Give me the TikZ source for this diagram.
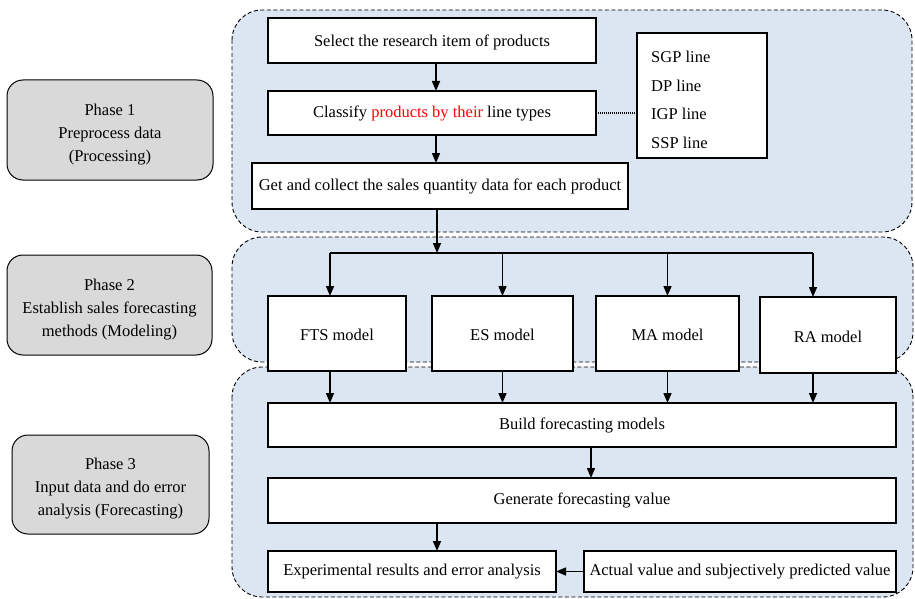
\documentclass[tikz,border=0pt]{standalone}
\usepackage{fontspec}
\setmainfont{Liberation Serif}
\usetikzlibrary{arrows.meta}
\definecolor{regblue}{HTML}{DCE6F2}
\definecolor{phgray}{HTML}{D9D9D9}
\begin{document}
\begin{tikzpicture}[x=1pt,y=-1pt,
  font=\fontsize{16.5}{23}\selectfont,
  region/.style={draw=black, dashed, dash pattern=on 4pt off 2.5pt, line width=0.9pt, fill=regblue, rounded corners=30pt},
  phase/.style={draw, line width=1pt, fill=phgray, rounded corners=16pt, align=center, inner sep=0pt, outer sep=0pt},
  box/.style={draw, line width=1.1pt, fill=white, align=center, inner sep=0pt, outer sep=0pt},
  conn/.style={line width=1.5pt},
  arr/.style={conn, -{Triangle[length=10pt,width=8pt]}}]
\useasboundingbox (0,0) rectangle (915,599);
% background regions
\draw[region] (232,10) rectangle (912,232);
\draw[region] (232,367) rectangle (913,597);
\draw[region] (232,237) rectangle (913,362);
% phases
\node[phase, minimum width=206pt, minimum height=100pt] (p1) at (110,130) {\rule{0pt}{20pt}Phase 1\\Preprocess data\\(Processing)};
\node[phase, minimum width=205pt, minimum height=100pt] (p2) at (109.5,305) {\rule{0pt}{20pt}Phase 2\\Establish sales forecasting\\methods (Modeling)};
\node[phase, minimum width=197pt, minimum height=99pt] (p3) at (110.5,484.5) {\rule{0pt}{20pt}Phase 3\\Input data and do error\\analysis (Forecasting)};
% phase 1 boxes
\node[box, minimum width=328pt, minimum height=45pt] (sel) at (432,40.5) {\rule{0pt}{15pt}Select the research item of products};
\node[box, minimum width=328pt, minimum height=44pt] (cls) at (432,113) {Classify \textcolor{red}{products by their} line types};
\node[box, minimum width=130pt, minimum height=125pt] (lines) at (702,95.5) {};
\node[anchor=west, align=left, inner sep=0pt, font=\fontsize{16.5}{28.7}\selectfont] (linestxt) at (651,100) {SGP line\\DP line\\IGP line\\SSP line};
\node[box, minimum width=376pt, minimum height=46pt] (get) at (440,186) {Get and collect the sales quantity data for each product};
% models
\node[box, minimum width=138pt, minimum height=75pt] (fts) at (337,333.5) {\rule{0pt}{15pt}FTS model};
\node[box, minimum width=141pt, minimum height=75pt] (es) at (502.5,333.5) {\rule{0pt}{15pt}ES model};
\node[box, minimum width=143pt, minimum height=75pt] (ma) at (667.5,333.5) {\rule{0pt}{15pt}MA model};
\node[box, minimum width=136pt, minimum height=76pt] (ra) at (828,335) {\rule{0pt}{15pt}RA model};
% phase 3
\node[box, minimum width=628pt, minimum height=44pt] (build) at (582,425) {Build forecasting models};
\node[box, minimum width=628pt, minimum height=45pt] (gen) at (582,500.5) {Generate forecasting value};
\node[box, minimum width=288pt, minimum height=41pt] (exp) at (412,571.5) {Experimental results and error analysis};
\node[box, minimum width=312pt, minimum height=41pt] (act) at (740,571.5) {Actual value and subjectively predicted value};
% connectors
\draw[arr] ([xshift=4pt]sel.south) -- ([xshift=4pt]cls.north);
\draw[arr] ([xshift=4pt]cls.south) -- ([xshift=-4pt]get.north);
\draw[line width=1.2pt, dash pattern=on 1pt off 1pt] (cls.east) -- (lines.west |- cls.east);
\coordinate (jl) at (330,253);
\coordinate (jr) at (813,253);
\draw[arr] ([xshift=-3pt]get.south) -- ([xshift=-3pt]get.south |- jl);
\draw[conn] (jl) -- (jr);
\draw[arr] (jl) -- (jl |- fts.north);
\draw[arr] (es.north |- jl) -- (es.north);
\draw[arr] (ma.north |- jl) -- (ma.north);
\draw[arr] (jr) -- (jr |- ra.north);
\draw[arr] ([xshift=-7pt]fts.south) -- ([xshift=-7pt]fts.south |- build.north);
\draw[arr] (es.south) -- (es.south |- build.north);
\draw[arr] (ma.south) -- (ma.south |- build.north);
\draw[arr] ([xshift=-15pt]ra.south) -- ([xshift=-15pt]ra.south |- build.north);
\draw[arr] ([xshift=9pt]build.south) -- ([xshift=9pt]gen.north);
\draw[arr] ([xshift=25pt]exp.north |- gen.south) -- ([xshift=25pt]exp.north);
\draw[arr] (act.west) -- (exp.east);
\end{tikzpicture}
\end{document}
